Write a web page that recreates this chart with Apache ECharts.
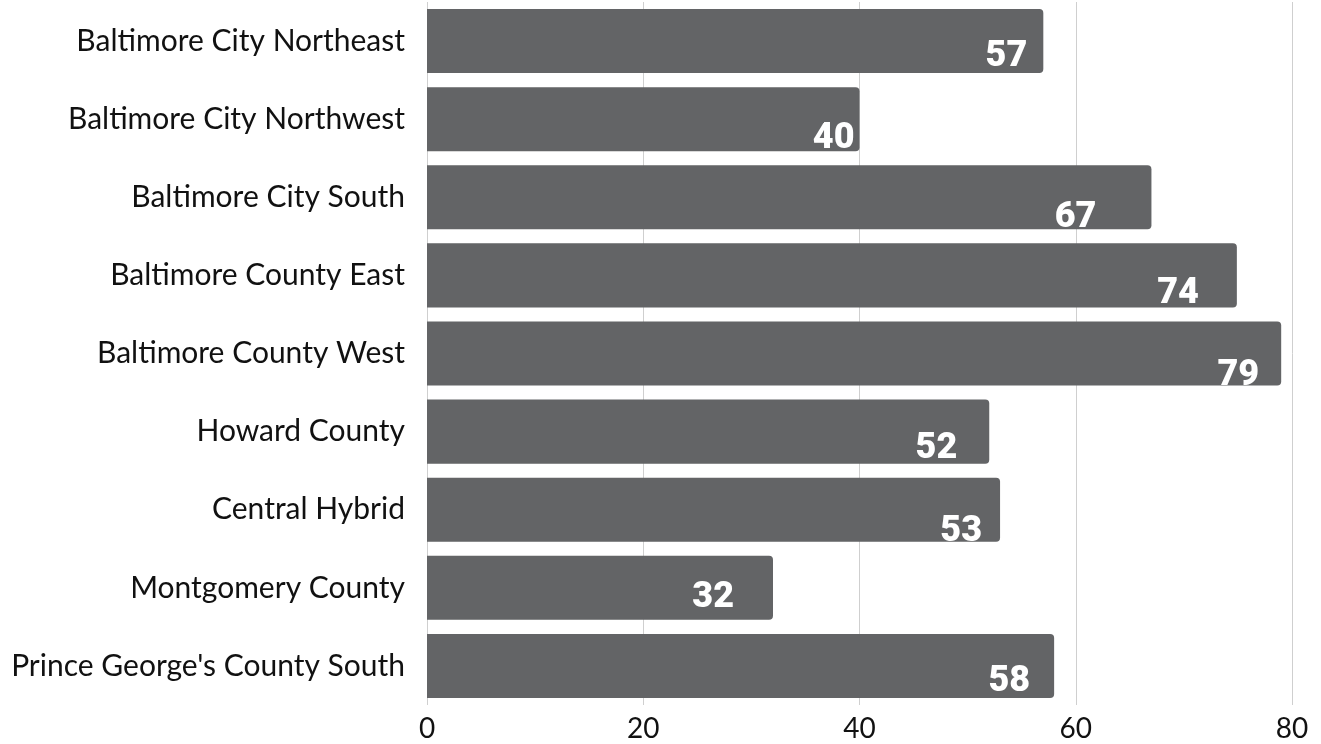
<!DOCTYPE html>
<html>
<head>
<meta charset="utf-8">
<script src="https://cdn.jsdelivr.net/npm/echarts@6/dist/echarts.min.js"></script>
<style>
  html, body { margin: 0; padding: 0; background: #fff; }
  #root { width: 1321px; height: 744px; }
</style>
</head>
<body>
<div id="root"></div>
<script>
  const categories = [
    'Baltimore City Northeast',
    'Baltimore City Northwest',
    'Baltimore City South',
    'Baltimore County East',
    'Baltimore County West',
    'Howard County',
    'Central Hybrid',
    'Montgomery County',
    "Prince George's County South"
  ];
  // bar lengths; the East bar reaches ~75 but is labelled 74
  const values = [57, 40, 67, 74.9, 79, 52, 53, 32, 58];
  const xTicks = [0, 20, 40, 60, 80];

  // the value labels in the original were placed by hand, so nudge each one
  const labelNudge = [[-11, 16], [0, 20], [-50, 21], [-33, 19], [-17, 22],
                      [-27, 17], [-13, 22], [-34, 10], [-19, 16]];

  const chart = echarts.init(document.getElementById('root'));

  const option = {
    animation: false,
    grid: { left: 427, right: 29, top: 2, bottom: 39 },
    xAxis: {
      type: 'value',
      min: xTicks[0],
      max: xTicks[xTicks.length - 1],
      interval: xTicks[1] - xTicks[0],
      axisLine: { show: false },
      axisTick: { show: false },
      splitLine: { lineStyle: { color: '#cfcfcf', width: 1 } },
      axisLabel: {
        color: '#111',
        fontFamily: 'Lato',
        fontSize: 28,
        margin: 10
      }
    },
    yAxis: {
      type: 'category',
      inverse: true,
      data: categories,
      axisLine: { show: false },
      axisTick: { show: false },
      axisLabel: {
        color: '#111',
        fontFamily: 'Lato',
        fontSize: 30,
        margin: 22
      }
    },
    series: [{
      type: 'bar',
      data: values.map((v, i) => ({
        value: v,
        label: { offset: labelNudge[i] }
      })),
      barCategoryGap: '18%',
      itemStyle: { color: '#636466', borderRadius: [0, 4, 4, 0] },
      label: {
        show: true,
        position: 'insideRight',
        color: '#fff',
        fontFamily: 'Roboto',
        fontWeight: 900,
        fontSize: 36,
        formatter: p => Math.floor(p.value)
      }
    }]
  };

  chart.setOption(option);
</script>
</body>
</html>
